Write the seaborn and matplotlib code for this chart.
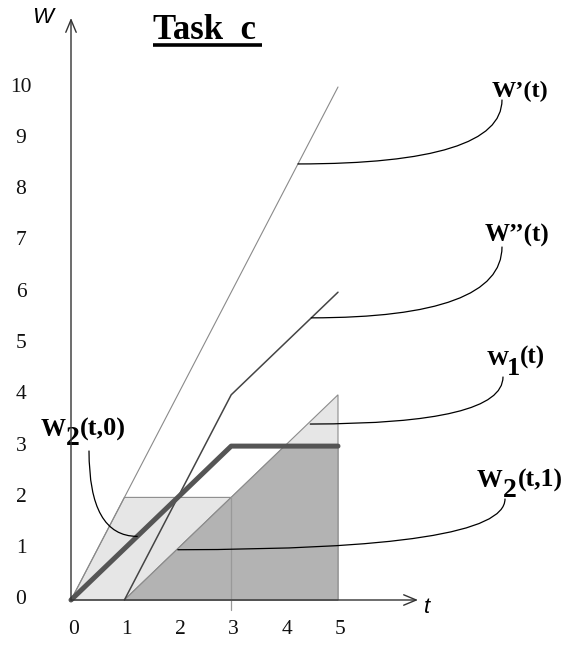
#!/usr/bin/env python3
"""Task c: work curves W'(t), W''(t), W1(t), W2(t,0) and W2(t,1)"""

import matplotlib

matplotlib.use("Agg")
import matplotlib.pyplot as plt
import seaborn as sns

###########################################################
# Data
###########################################################

t_ticks = [0, 1, 2, 3, 4, 5]
w_ticks = [0, 1, 2, 3, 4, 5, 6, 7, 8, 9, 10]

# W'(t)
t_w_prime = [0, 5]
w_prime = [0, 10]

# W''(t)
t_w_dprime = [1, 3, 5]
w_dprime = [0, 4, 6]

# W2(t,0)  (thick line)
t_w2_0 = [0, 3, 5]
w2_0 = [0, 3, 3]

# light band under W'(t) capped at 2
t_band = [0, 1, 3, 1]
w_band = [0, 2, 2, 0]

# W1(t) region (light)
t_w1 = [1, 5, 5]
w_w1 = [0, 4, 0]

# W2(t,1) region (dark)
t_w2_1 = [1, 4, 5, 5]
w_w2_1 = [0, 3, 3, 0]

# split marker at t = 3
t_split = 3
w_split = [2, -0.2]

###########################################################
# Layout helpers
###########################################################

W_PX, H_PX = 564, 646
X0, SX = 71, 53.4  # pixel of t=0, pixels per unit t
Y0, SY = 600, 51.3  # pixel of w=0, pixels per unit w


def px(x, y):
    """pixel position -> axes fraction"""
    return x / W_PX, 1 - y / H_PX


def to_data(x, y):
    return (x - X0) / SX, (Y0 - y) / SY


###########################################################
# Main
###########################################################

sns.set_theme(style="white")
plt.rcParams["font.family"] = ["Liberation Serif", "DejaVu Serif"]
plt.rcParams["text.color"] = "black"

fig = plt.figure(figsize=(W_PX / 100, H_PX / 100), dpi=100)
ax = fig.add_axes([0, 0, 1, 1])
ax.set_xlim(-X0 / SX, (W_PX - X0) / SX)
ax.set_ylim((Y0 - H_PX) / SY, Y0 / SY)
ax.axis("off")

edge = "#8c8c8c"
ax.fill(t_band, w_band, fc="#e6e6e6", ec=edge, lw=0.8, zorder=1)
ax.fill(t_w1, w_w1, fc="#e6e6e6", ec=edge, lw=0.8, zorder=1)
ax.fill(t_w2_1, w_w2_1, fc="#b3b3b3", ec=edge, lw=0.8, zorder=2)
ax.plot([t_split, t_split], w_split, color="#999999", lw=0.9, zorder=2)

sns.lineplot(x=t_w_prime, y=w_prime, ax=ax, color="#8a8a8a", lw=0.8,
             sort=False, estimator=None, zorder=3)
sns.lineplot(x=t_w_dprime, y=w_dprime, ax=ax, color="#444444", lw=1.1,
             sort=False, estimator=None, zorder=3)
sns.lineplot(x=t_w2_0, y=w2_0, ax=ax, color="#555555", lw=3.6,
             sort=False, estimator=None, zorder=4)

# axes with open arrow heads
arrow = dict(arrowstyle="->,head_length=0.6,head_width=0.25", mutation_scale=15,
             lw=1.0, color="#333333", shrinkA=0, shrinkB=0)
ax.annotate("", xy=to_data(X0, 18), xytext=(0, 0), arrowprops=arrow, zorder=5)
ax.annotate("", xy=to_data(418, Y0), xytext=(0, 0), arrowprops=arrow, zorder=5)

# tick labels
for t in t_ticks:
    ax.text(t + 0.04, to_data(0, 630)[1], str(t), ha="center", va="center",
            fontsize=15.5, color="#111111")
for w in w_ticks:
    ax.text(to_data(21, 0)[0], w, str(w), ha="center", va="center",
            fontsize=15.5, color="#111111")

# axis names
ax.text(*px(32, 23), "W", transform=ax.transAxes, fontsize=16, style="italic",
        family="Liberation Sans", va="baseline", ha="left")
ax.text(*px(424, 613), "t", transform=ax.transAxes, fontsize=16, style="italic",
        family="Liberation Sans", va="baseline", ha="left")

# title with underline
ax.text(*px(153, 39), "Task  c", transform=ax.transAxes, fontsize=25,
        fontweight="bold", va="baseline", ha="left")
ax.plot([153 / W_PX, 262 / W_PX], [1 - 45 / H_PX] * 2, transform=ax.transAxes,
        color="black", lw=2.6, solid_capstyle="butt")

# curve labels: (left px, baseline px, text, size)
label_parts = [
    [(492, 97, "W\u2019(t)", 17.5)],
    [(485, 242, "W\u2019\u2019(t)", 18)],
    [(487, 365, "W", 16), (507, 375, "1", 19), (520, 364, "(t)", 18)],
    [(477, 487, "W", 18.5), (503, 497, "2", 20), (518, 487, "(t,1)", 18.5)],
    [(41, 436, "W", 18), (66, 445, "2", 20), (80, 436, "(t,0)", 19)],
]
for parts in label_parts:
    for x, y, s, size in parts:
        ax.text(*px(x, y), s, transform=ax.transAxes, fontsize=size,
                fontweight="bold", va="baseline", ha="left")

# leader curves: start (px, near label) -> end (data, on curve)
leaders = [
    ((502, 100), (4.25, 8.5)),
    ((502, 247), (4.5, 5.5)),
    ((503, 377), (4.48, 3.43)),
    ((505, 499), (2.0, 0.98)),
    ((89, 451), (1.24, 1.24)),
]
for start, end in leaders:
    ax.annotate("", xy=end, xytext=to_data(*start), zorder=6,
                arrowprops=dict(arrowstyle="-", lw=0.9, color="black",
                                connectionstyle="angle3,angleA=90,angleB=0",
                                shrinkA=0, shrinkB=0))

fig.savefig("out.png", dpi=100)
